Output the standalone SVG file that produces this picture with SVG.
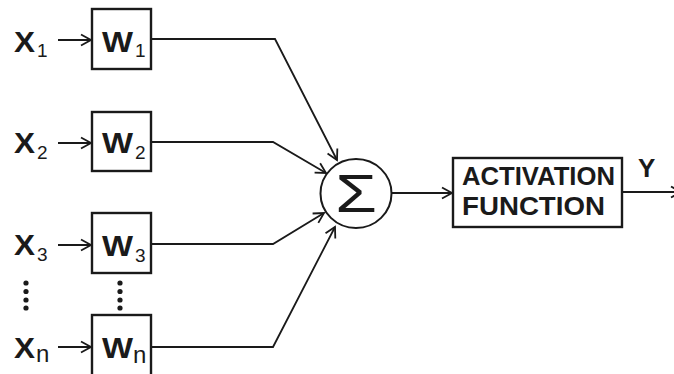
<svg xmlns="http://www.w3.org/2000/svg" width="674" height="374" viewBox="0 0 674 374">
  <style>
    .box { fill: none; stroke: #1a1a1a; stroke-width: 2.4; }
    .wire { fill: none; stroke: #1a1a1a; stroke-width: 1.8; }
    .lbl { font-family: "Liberation Sans", Arial, sans-serif; font-weight: bold; fill: #1a1a1a; }
    .sub { font-family: "Liberation Sans", Arial, sans-serif; fill: #1a1a1a; font-size: 19px; }
    .subn { font-family: "Liberation Sans", Arial, sans-serif; fill: #1a1a1a; font-size: 24px; }
    .dot { fill: #1a1a1a; }
  </style>
  <defs>
    <marker id="head" viewBox="-12 -7 14 14" markerWidth="14" markerHeight="14" refX="0" refY="0" orient="auto" markerUnits="userSpaceOnUse">
      <path d="M-10,-5.5 L0,0 L-10,5.5" fill="none" stroke="#1a1a1a" stroke-width="1.8"/>
    </marker>
  </defs>
  <rect width="674" height="374" fill="#ffffff"/>

  <!-- input labels -->
  <g id="x1"><text class="lbl" x="14" y="52" font-size="29" textLength="21" lengthAdjust="spacingAndGlyphs">X</text><text class="sub" x="37" y="57">1</text></g>
  <g id="x2"><text class="lbl" x="14" y="153" font-size="29" textLength="21" lengthAdjust="spacingAndGlyphs">X</text><text class="sub" x="37" y="159">2</text></g>
  <g id="x3"><text class="lbl" x="14" y="255" font-size="29" textLength="21" lengthAdjust="spacingAndGlyphs">X</text><text class="sub" x="37" y="261">3</text></g>
  <g id="xn"><text class="lbl" x="14" y="358" font-size="29" textLength="21" lengthAdjust="spacingAndGlyphs">X</text><text class="subn" x="36" y="362">n</text></g>

  <!-- weight boxes -->
  <g id="w1"><rect class="box" x="92" y="9" width="59" height="60"/><text class="lbl" x="102" y="52" font-size="29" textLength="31" lengthAdjust="spacingAndGlyphs">W</text><text class="sub" x="135" y="57">1</text></g>
  <g id="w2"><rect class="box" x="92" y="112" width="59" height="59"/><text class="lbl" x="102" y="153" font-size="29" textLength="31" lengthAdjust="spacingAndGlyphs">W</text><text class="sub" x="135" y="159">2</text></g>
  <g id="w3"><rect class="box" x="92" y="213" width="59" height="60"/><text class="lbl" x="102" y="256" font-size="29" textLength="31" lengthAdjust="spacingAndGlyphs">W</text><text class="sub" x="135" y="262">3</text></g>
  <g id="wn"><rect class="box" x="92" y="315" width="59" height="62"/><text class="lbl" x="102" y="358" font-size="29" textLength="31" lengthAdjust="spacingAndGlyphs">W</text><text class="subn" x="133" y="363">n</text></g>

  <!-- vertical ellipsis between the 3rd and n-th input -->
  <g id="ellipsis">
    <circle class="dot" cx="26" cy="283" r="2.6"/><circle class="dot" cx="26" cy="291.5" r="2.6"/><circle class="dot" cx="26" cy="300" r="2.6"/><circle class="dot" cx="26" cy="308" r="2.6"/>
    <circle class="dot" cx="120" cy="283" r="2.6"/><circle class="dot" cx="120" cy="291.5" r="2.6"/><circle class="dot" cx="120" cy="300" r="2.6"/><circle class="dot" cx="120" cy="308" r="2.6"/>
  </g>

  <!-- summing junction -->
  <g id="sum">
    <ellipse cx="356" cy="193.5" rx="35.5" ry="34.5" fill="none" stroke="#1a1a1a" stroke-width="2"/>
    <text x="356" y="212" text-anchor="middle" font-family="Liberation Sans, Arial, sans-serif" font-size="54" fill="#1a1a1a" transform="translate(356 0) scale(1.25 1) translate(-356 0)">Σ</text>
  </g>

  <!-- activation block -->
  <g id="activation">
    <rect class="box" x="453" y="158" width="169" height="69"/>
    <text class="lbl" x="462" y="185" font-size="26" textLength="153" lengthAdjust="spacingAndGlyphs">ACTIVATION</text>
    <text class="lbl" x="462" y="215" font-size="26" textLength="143" lengthAdjust="spacingAndGlyphs">FUNCTION</text>
  </g>

  <g id="y"><text x="638" y="177" font-family="Liberation Sans, Arial, sans-serif" font-weight="bold" font-size="26" fill="#1a1a1a">Y</text></g>

  <!-- connectors -->
  <g id="connectors">
    <line class="wire" x1="58" y1="40" x2="91" y2="40" marker-end="url(#head)"/>
    <line class="wire" x1="58" y1="143" x2="91" y2="143" marker-end="url(#head)"/>
    <line class="wire" x1="58" y1="245" x2="91" y2="245" marker-end="url(#head)"/>
    <line class="wire" x1="58" y1="347" x2="91" y2="347" marker-end="url(#head)"/>

    <polyline class="wire" points="151,39 275,39 337,160" marker-end="url(#head)"/>
    <polyline class="wire" points="151,142 273,142 326,173" marker-end="url(#head)"/>
    <polyline class="wire" points="151,244 273,244 324,213" marker-end="url(#head)"/>
    <polyline class="wire" points="151,347 273,347 335,227" marker-end="url(#head)"/>

    <line class="wire" x1="391.5" y1="193" x2="452" y2="193" marker-end="url(#head)"/>
    <line class="wire" x1="622" y1="192" x2="681" y2="192" marker-end="url(#head)"/>
  </g>
</svg>
